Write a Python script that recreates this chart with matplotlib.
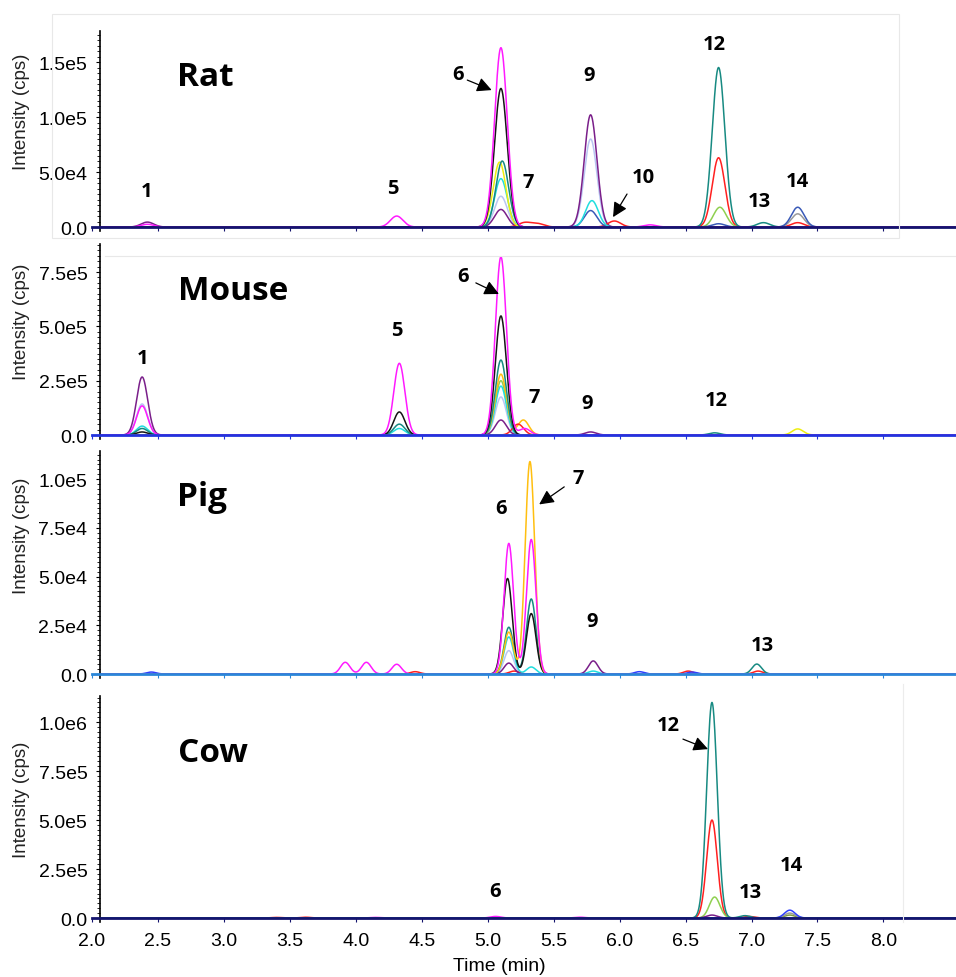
#!/usr/bin/env python3
import numpy as np
import matplotlib
matplotlib.use("Agg")
import matplotlib.pyplot as plt
from matplotlib.ticker import FixedLocator, AutoMinorLocator, FuncFormatter
from matplotlib.patches import Rectangle
from matplotlib.lines import Line2D

W, H = 956, 978

COLORS = {
    "magenta": "#ff1aff",
    "black": "#151515",
    "purple": "#7a1f8a",
    "teal": "#178a82",
    "red": "#ff2020",
    "green": "#8fd050",
    "orange": "#ffbf10",
    "yellow": "#eeee10",
    "cyan": "#20dede",
    "lavender": "#b9c6f2",
    "blue": "#3040ff",
    "steel": "#3a5ab8",
    "gray": "#9a9a9a",
    "olive": "#7c9a3c",
}

# retention time (min) and apex height (cps) of each peak, per trace colour
RAT = {
    "lavender": ([5.10, 5.78], [2.8e4, 8.0e4]),
    "purple": ([2.42, 5.10, 5.78], [4.5e3, 1.6e4, 1.02e5]),
    "red": ([5.28, 5.38, 5.96, 6.75, 7.35], [4e3, 3e3, 5.5e3, 6.3e4, 4e3]),
    "green": ([6.76], [1.8e4]),
    "gray": ([7.35], [1.2e4]),
    "steel": ([5.78, 6.75, 7.35], [1.5e4, 3e3, 1.8e4]),
    "cyan": ([5.10, 5.79], [4.4e4, 2.4e4]),
    "yellow": ([5.09], [5.9e4]),
    "teal": ([5.11, 6.75, 7.09], [6.0e4, 1.45e5, 4e3]),
    "black": ([5.10], [1.26e5]),
    "magenta": ([2.42, 4.31, 5.10, 6.23], [2.5e3, 1.0e4, 1.63e5, 2e3]),
}
MOUSE = {
    "lavender": ([2.38, 5.10], [1.43e5, 1.75e5]),
    "green": ([5.10], [2.5e5]),
    "cyan": ([2.38, 4.33, 5.10], [4.1e4, 3.0e4, 2.25e5]),
    "orange": ([5.10, 5.27], [2.8e5, 6.9e4]),
    "red": ([5.23], [5.0e4]),
    "teal": ([2.38, 4.33, 5.10, 6.72], [3.0e4, 5.0e4, 3.45e5, 1.0e4]),
    "black": ([2.38, 4.33, 5.10], [1.4e4, 1.06e5, 5.48e5]),
    "purple": ([2.38, 5.10, 5.78], [2.67e5, 6.9e4, 1.4e4]),
    "yellow": ([7.35], [2.8e4]),
    "magenta": ([2.38, 4.33, 5.10, 5.28], [1.34e5, 3.3e5, 8.2e5, 3.0e4]),
}
PIG = {
    "lavender": ([5.16], [1.2e4]),
    "red": ([4.45, 5.20, 6.52, 7.05], [1.2e3, 1.5e3, 1.5e3, 1.5e3]),
    "blue": ([2.45, 6.15, 6.55], [1.0e3, 1.2e3, 1.0e3]),
    "cyan": ([5.16, 5.33, 5.80], [1.9e4, 3.6e3, 1.5e3]),
    "purple": ([5.16, 5.80], [5.6e3, 6.7e3]),
    "teal": ([5.16, 5.33, 7.04], [2.4e4, 3.85e4, 5.1e3]),
    "black": ([5.15, 5.33], [4.9e4, 3.1e4]),
    "orange": ([5.16, 5.32], [2.15e4, 1.09e5]),
    "magenta": ([3.92, 4.08, 4.31, 5.16, 5.33], [6e3, 6e3, 5e3, 6.7e4, 6.9e4]),
}
COW = {
    "red": ([3.40, 3.62, 6.70, 6.98], [3e3, 4e3, 5.0e5, 8e3]),
    "green": ([6.72], [1.07e5]),
    "purple": ([6.70], [1.5e4]),
    "magenta": ([4.15, 5.06, 5.70], [3e3, 8e3, 4e3]),
    "olive": ([7.29], [1.5e4]),
    "gray": ([7.29], [2.5e4]),
    "blue": ([7.29], [4.0e4]),
    "teal": ([6.70, 6.95], [1.1e6, 1.2e4]),
}

RAT_TICKS = [0, 5e4, 1e5, 1.5e5]
MOUSE_TICKS = [0, 2.5e5, 5e5, 7.5e5]
PIG_TICKS = [0, 2.5e4, 5e4, 7.5e4, 1e5]
COW_TICKS = [0, 2.5e5, 5e5, 7.5e5, 1e6]
X_TICKS = [2.0, 2.5, 3.0, 3.5, 4.0, 4.5, 5.0, 5.5, 6.0, 6.5, 7.0, 7.5, 8.0]

# peak numbers: (text, time, intensity)
RAT_LABELS = [("1", 2.41, 3.3e4), ("5", 4.28, 3.55e4), ("6", 4.775, 1.39e5),
              ("7", 5.31, 4.1e4), ("9", 5.77, 1.38e5), ("10", 6.18, 4.55e4),
              ("12", 6.72, 1.66e5), ("13", 7.06, 2.36e4), ("14", 7.345, 4.2e4)]
MOUSE_LABELS = [("1", 2.38, 3.55e5), ("5", 4.31, 4.83e5), ("6", 4.81, 7.32e5),
                ("7", 5.35, 1.75e5), ("9", 5.75, 1.47e5), ("12", 6.73, 1.61e5)]
PIG_LABELS = [("6", 5.10, 8.5e4), ("7", 5.685, 1.005e5), ("9", 5.79, 2.7e4),
              ("13", 7.08, 1.49e4)]
COW_LABELS = [("6", 5.055, 1.38e5), ("12", 6.367, 9.85e5), ("13", 6.99, 1.33e5),
              ("14", 7.30, 2.7e5)]

# arrows: (tail, tip)
RAT_ARROWS = [((4.845, 1.336e5), (5.03, 1.245e5)), ((6.056, 3.0e4), (5.95, 9.0e3))]
MOUSE_ARROWS = [((4.91, 7.0e5), (5.085, 6.49e5))]
PIG_ARROWS = [((5.58, 9.6e4), (5.39, 8.7e4))]
COW_ARROWS = [((6.48, 9.13e5), (6.67, 8.62e5))]

panels = [
    # name, traces, ticks, labels, arrows, (top px, bottom px), ylim, name pos, ylabel y px, spine colour, width
    ("Rat", RAT, RAT_TICKS, RAT_LABELS, RAT_ARROWS, (32, 232), (-3.6e3, 1.782e5),
     (2.857, 1.364e5), 112, "#14146e", 0.048),
    ("Mouse", MOUSE, MOUSE_TICKS, MOUSE_LABELS, MOUSE_ARROWS, (245, 440), (-1.84e4, 8.79e5),
     (3.07, 6.63e5), 322, "#2233dd", 0.042),
    ("Pig", PIG, PIG_TICKS, PIG_LABELS, PIG_ARROWS, (452, 679), (-2.05e3, 1.144e5),
     (2.834, 9.13e4), 536, "#2a86d8", 0.036),
    ("Cow", COW, COW_TICKS, COW_LABELS, COW_ARROWS, (697, 923), (-2.04e4, 1.133e6),
     (2.917, 8.47e5), 800, "#14146e", 0.040),
]


def sci(v, _):
    if abs(v) < 1e-9:
        return "0.0"
    m, e = f"{v:.1e}".split("e")
    return f"{m}e{int(e)}"


plt.rcParams["font.family"] = ["Liberation Sans", "DejaVu Sans"]
fig = plt.figure(figsize=(W / 100, H / 100), dpi=100)

t = np.linspace(2.06, 8.55, 4000)
X0, X1 = 2.0, 8.55
LEFT = 92

for i, (name, traces, ticks, labels, arrows, (top, bot), ylim, npos, ylab_y, scol, sig) in enumerate(panels):
    ax = fig.add_axes([LEFT / W, 1 - bot / H, (W - LEFT) / W, (bot - top) / H])
    for col, (rts, hs) in traces.items():
        y = np.zeros_like(t)
        for rt, h in zip(rts, hs):
            y += h * np.exp(-0.5 * ((t - rt) / sig) ** 2)
        ax.plot(t, y, color=COLORS[col], lw=1.1, zorder=2)
    ax.set_xlim(X0, X1)
    ax.set_ylim(*ylim)
    for s in ("top", "right"):
        ax.spines[s].set_visible(False)
    ax.spines["left"].set_position(("data", 2.06))
    ax.spines["bottom"].set_position(("data", 0))
    ax.spines["bottom"].set_color(scol)
    ax.spines["bottom"].set_linewidth(2.0)
    ax.spines["bottom"].set_zorder(3)
    ax.spines["left"].set_linewidth(1.2)
    ax.yaxis.set_major_locator(FixedLocator(ticks))
    ax.yaxis.set_major_formatter(FuncFormatter(sci))
    ax.yaxis.set_minor_locator(AutoMinorLocator(10))
    ax.xaxis.set_major_locator(FixedLocator(X_TICKS))
    ax.tick_params(axis="y", which="major", direction="out", length=3, width=0.8,
                   pad=6, labelsize=14)
    ax.tick_params(axis="y", which="minor", direction="out", length=2, width=0.6)
    ax.tick_params(axis="x", which="major", direction="out", length=3, width=0.8,
                   pad=7, labelsize=14, color=scol)
    if i < len(panels) - 1:
        ax.tick_params(axis="x", labelbottom=False)
    ax.patch.set_visible(False)

    ax.text(*npos, name, ha="center", va="center", fontsize=24,
            fontweight="bold", family="Open Sans")
    for txt, x, y in labels:
        ax.text(x, y, txt, ha="center", va="center", fontsize=14.5,
                fontweight="bold", family="Open Sans")
    for tail, tip in arrows:
        ax.annotate("", xy=tip, xytext=tail,
                    arrowprops=dict(arrowstyle="-|>", color="black", lw=0.9,
                                    mutation_scale=22, shrinkA=0, shrinkB=0))
    fig.text(22 / W, 1 - ylab_y / H, "Intensity (cps)", rotation=90,
             ha="center", va="center", fontsize=13.5, color="#222222")

# faint frames left over from the instrument screenshots
fig.add_artist(Rectangle((52 / W, 1 - 239 / H), (899 - 52) / W, (239 - 15) / H,
                         transform=fig.transFigure, fill=False, ec="#e8e8e8", lw=0.8))
fig.add_artist(Line2D([105 / W, 1], [1 - 257 / H] * 2, transform=fig.transFigure,
                      color="#e8e8e8", lw=0.8))
fig.add_artist(Line2D([903 / W] * 2, [1 - 923 / H, 1 - 685 / H], transform=fig.transFigure,
                      color="#ececec", lw=0.8))

fig.text(499 / W, 1 - 967 / H, "Time (min)", ha="center", va="center", fontsize=14)

fig.savefig("out.png", dpi=100)
